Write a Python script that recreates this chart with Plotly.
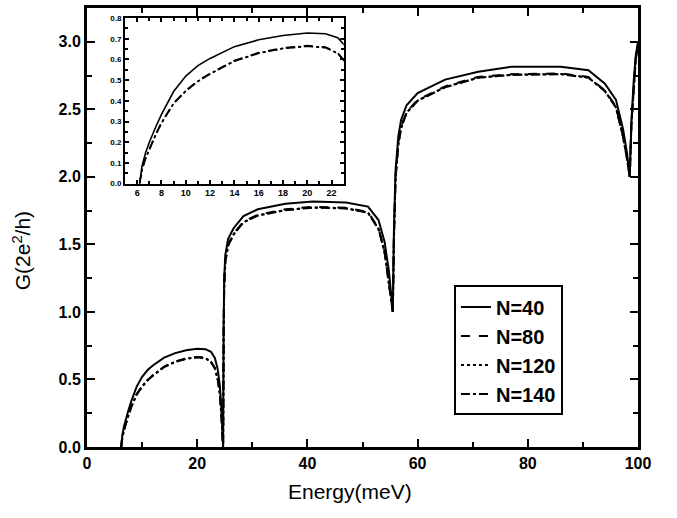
import plotly.graph_objects as go

# ---- data ----
energy = [6.2, 6.4, 6.7, 7.0, 7.5, 8, 9, 10, 11, 12, 14, 16, 18, 20, 21.5, 22.5, 23.2, 23.7, 24.1, 24.4, 24.6,
          24.7, 24.8, 24.9, 25.1, 25.6, 26.6, 28.4, 31, 36, 41, 47, 51, 52.9, 54, 54.8, 55.5,
          55.7, 56, 56.5, 57, 58, 60, 65, 71, 77, 86, 91, 94, 96, 97.3, 98, 98.5,
          98.8, 99.2, 99.6, 100]

g_n40 = [0, 0.085, 0.15, 0.2, 0.27, 0.335, 0.445, 0.52, 0.57, 0.605, 0.662, 0.695, 0.716, 0.728, 0.724, 0.705, 0.66, 0.58, 0.46, 0.28, 0,
         0, 0.9, 1.25, 1.42, 1.54, 1.62, 1.71, 1.76, 1.80, 1.817, 1.81, 1.78, 1.68, 1.52, 1.3, 1.0,
         1.6, 2.05, 2.3, 2.42, 2.53, 2.62, 2.72, 2.778, 2.815, 2.815, 2.79, 2.69, 2.57, 2.35, 2.18, 2.0,
         2.4, 2.7, 2.9, 3.0]

g_n80 = [0, 0.07, 0.125, 0.17, 0.235, 0.295, 0.39, 0.45, 0.497, 0.533, 0.595, 0.633, 0.656, 0.667, 0.66, 0.632, 0.585, 0.51, 0.40, 0.23, 0,
         0, 0.85, 1.2, 1.38, 1.5, 1.58, 1.67, 1.72, 1.76, 1.778, 1.772, 1.74, 1.62, 1.45, 1.22, 1.0,
         1.55, 2.0, 2.25, 2.37, 2.48, 2.57, 2.67, 2.74, 2.76, 2.766, 2.74, 2.64, 2.52, 2.30, 2.14, 2.0,
         2.4, 2.68, 2.88, 2.98]

g_n120 = [0, 0.068, 0.123, 0.168, 0.233, 0.293, 0.388, 0.448, 0.495, 0.531, 0.593, 0.631, 0.654, 0.665, 0.658, 0.63, 0.583, 0.508, 0.398, 0.228, 0,
          0, 0.84, 1.19, 1.37, 1.49, 1.575, 1.665, 1.715, 1.755, 1.774, 1.768, 1.736, 1.615, 1.445, 1.215, 1.0,
          1.54, 1.99, 2.24, 2.36, 2.475, 2.565, 2.665, 2.735, 2.756, 2.762, 2.736, 2.636, 2.515, 2.295, 2.135, 2.0,
          2.39, 2.675, 2.875, 2.975]

g_n140 = [0, 0.068, 0.122, 0.167, 0.232, 0.292, 0.387, 0.447, 0.494, 0.53, 0.592, 0.63, 0.653, 0.664, 0.657, 0.629, 0.582, 0.507, 0.397, 0.227, 0,
          0, 0.84, 1.19, 1.37, 1.49, 1.573, 1.663, 1.713, 1.753, 1.772, 1.766, 1.734, 1.613, 1.443, 1.213, 1.0,
          1.54, 1.99, 2.24, 2.36, 2.473, 2.563, 2.663, 2.733, 2.754, 2.76, 2.734, 2.634, 2.513, 2.293, 2.133, 2.0,
          2.39, 2.673, 2.873, 2.973]

series_names = ["N=40", "N=80", "N=120", "N=140"]
series_values = [g_n40, g_n80, g_n120, g_n140]
dashes = ["solid", "dash", "dot", "dashdot"]

x_title = "Energy(meV)"
y_title = "G(2e<sup>2</sup>/h)"

FONT = "Arial, Liberation Sans, sans-serif"

fig = go.Figure()
for name, vals, dsh in zip(series_names, series_values, dashes):
    fig.add_trace(go.Scatter(x=energy, y=vals, mode="lines", name=name,
                             line=dict(color="black", width=2, dash=dsh),
                             xaxis="x", yaxis="y"))
for name, vals, dsh in zip(series_names, series_values, dashes):
    fig.add_trace(go.Scatter(x=energy, y=vals, mode="lines", name=name, showlegend=False,
                             line=dict(color="black", width=1.6, dash=dsh),
                             xaxis="x2", yaxis="y2"))

axis_common = dict(showline=True, linecolor="black", mirror="allticks", ticks="inside",
                   showgrid=False, zeroline=False, tickcolor="black")

fig.update_layout(
    width=677, height=518,
    margin=dict(l=87, r=39, t=4, b=71),
    paper_bgcolor="white", plot_bgcolor="white",
    font=dict(family=FONT, color="black"),
    xaxis=dict(domain=[0, 1], range=[0, 100], tick0=0, dtick=20, linewidth=3,
               ticklen=8, tickwidth=2,
               minor=dict(ticks="inside", dtick=10, ticklen=5, tickwidth=2, tickcolor="black"),
               tickfont=dict(size=16, family=FONT, weight="bold"),
               **axis_common),
    yaxis=dict(domain=[0, 1], range=[0, 3.25], tick0=0, dtick=0.5, tickformat=".1f", linewidth=3,
               ticklen=8, tickwidth=2,
               minor=dict(ticks="inside", dtick=0.25, ticklen=5, tickwidth=2, tickcolor="black"),
               tickfont=dict(size=16, family=FONT, weight="bold"),
               **axis_common),
    xaxis2=dict(domain=[0.069, 0.466], anchor="y2", range=[5, 23], tick0=6, dtick=2, linewidth=2,
                ticklen=4, tickwidth=1.5,
                minor=dict(ticks="inside", dtick=1, ticklen=2.5, tickwidth=1.5, tickcolor="black"),
                tickfont=dict(size=9, family=FONT, weight="bold"),
                **axis_common),
    yaxis2=dict(domain=[0.600, 0.977], anchor="x2", range=[0, 0.8], tick0=0, dtick=0.1, tickformat=".1f",
                linewidth=2, ticklen=4, tickwidth=1.5,
                minor=dict(ticks="inside", dtick=0.05, ticklen=2.5, tickwidth=1.5, tickcolor="black"),
                tickfont=dict(size=8, family=FONT, weight="bold"),
                **axis_common),
    legend=dict(x=0.666, y=0.368, xanchor="left", yanchor="top",
                bordercolor="black", borderwidth=2, bgcolor="white",
                font=dict(size=20, family=FONT, weight="bold"),
                tracegroupgap=0),
    showlegend=True,
    annotations=[
        dict(text=x_title, xref="paper", yref="paper", x=0.477, y=-0.102,
             xanchor="center", yanchor="middle", showarrow=False,
             font=dict(size=21, family=FONT)),
        dict(text=y_title, xref="paper", yref="paper", x=-0.118, y=0.448,
             xanchor="center", yanchor="middle", showarrow=False, textangle=-90,
             font=dict(size=21, family=FONT)),
    ],
)

fig.write_html("out.html", config={"displayModeBar": False},
               post_script="document.body.style.margin='0';document.body.style.padding='0';")
